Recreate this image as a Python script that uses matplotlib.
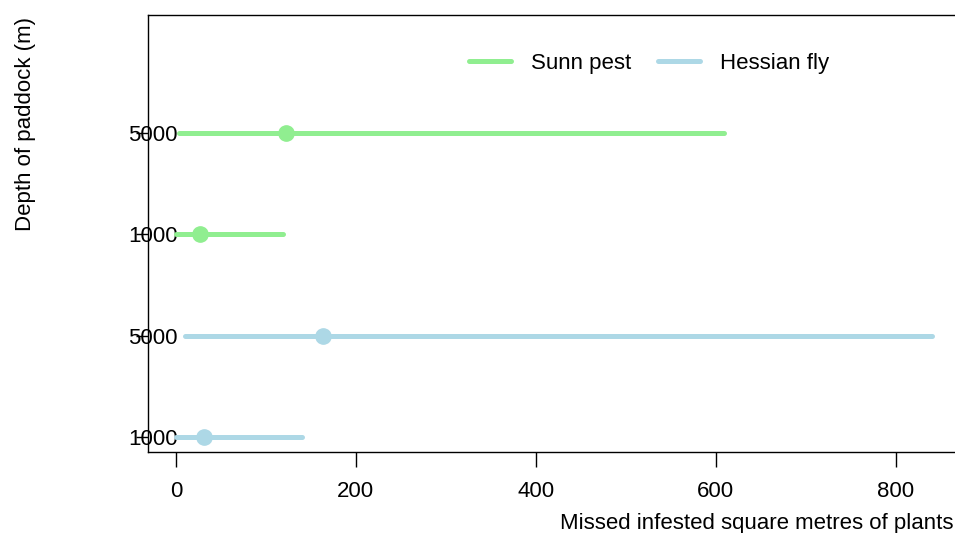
import matplotlib.pyplot as plt
import numpy as np

plt.rcParams['font.family'] = ['Liberation Sans', 'DejaVu Sans']

# rows from bottom to top
pests = ['Hessian fly', 'Hessian fly', 'Sunn pest', 'Sunn pest']
depth_labels = ['1000', '5000', '1000', '5000']
low = [0, 10, 0, 3]
mid = [31, 164, 27, 122]
high = [140, 840, 119, 609]

colours = {'Sunn pest': '#90EE90', 'Hessian fly': '#ADD8E6'}
xticks = [0, 200, 400, 600, 800]

fs = 16
fig = plt.figure(figsize=(9.55, 5.33), dpi=100)
ax = fig.add_axes([148/955, 1-452/533, (965-148)/955, (452-15)/533])

ypos = np.arange(1, len(pests) + 1)
for y, p, lo, m, hi in zip(ypos, pests, low, mid, high):
    ax.plot([lo, hi], [y, y], color=colours[p], lw=3.6, solid_capstyle='round', zorder=2)
    ax.plot(m, y, 'o', color=colours[p], ms=11, zorder=3)

ax.set_xlim(-31, 877)
ax.set_ylim(0.852, 5.165)
ax.set_xticks(xticks)
ax.set_yticks(ypos)
ax.set_yticklabels(depth_labels)
ax.tick_params(axis='x', direction='out', length=10.8, width=1, pad=10, labelsize=fs)
ax.tick_params(axis='y', direction='out', length=8.6, width=1, pad=-30, labelsize=fs)
for s in ax.spines.values():
    s.set_linewidth(1)

ax.set_xlabel('Missed infested square metres of plants', fontsize=fs)
ax.xaxis.set_label_coords((757-148)/(965-148), -(524-452)/437, transform=ax.transAxes)
ax.xaxis.label.set_va('center')
ax.set_ylabel('Depth of paddock (m)', fontsize=fs)
ax.yaxis.set_label_coords((25-148)/817, (452-124)/437, transform=ax.transAxes)
ax.yaxis.label.set_va('center')

handles = [plt.Line2D([], [], color=colours['Sunn pest'], lw=3.6, solid_capstyle='round'),
           plt.Line2D([], [], color=colours['Hessian fly'], lw=3.6, solid_capstyle='round')]
ax.legend(handles, ['Sunn pest', 'Hessian fly'], ncol=2, frameon=False, fontsize=fs,
          loc='center', bbox_to_anchor=(649/955, 1-63/533), bbox_transform=fig.transFigure,
          handlelength=1.9, handletextpad=0.9, columnspacing=1.2)

fig.savefig('out.png', dpi=100)
